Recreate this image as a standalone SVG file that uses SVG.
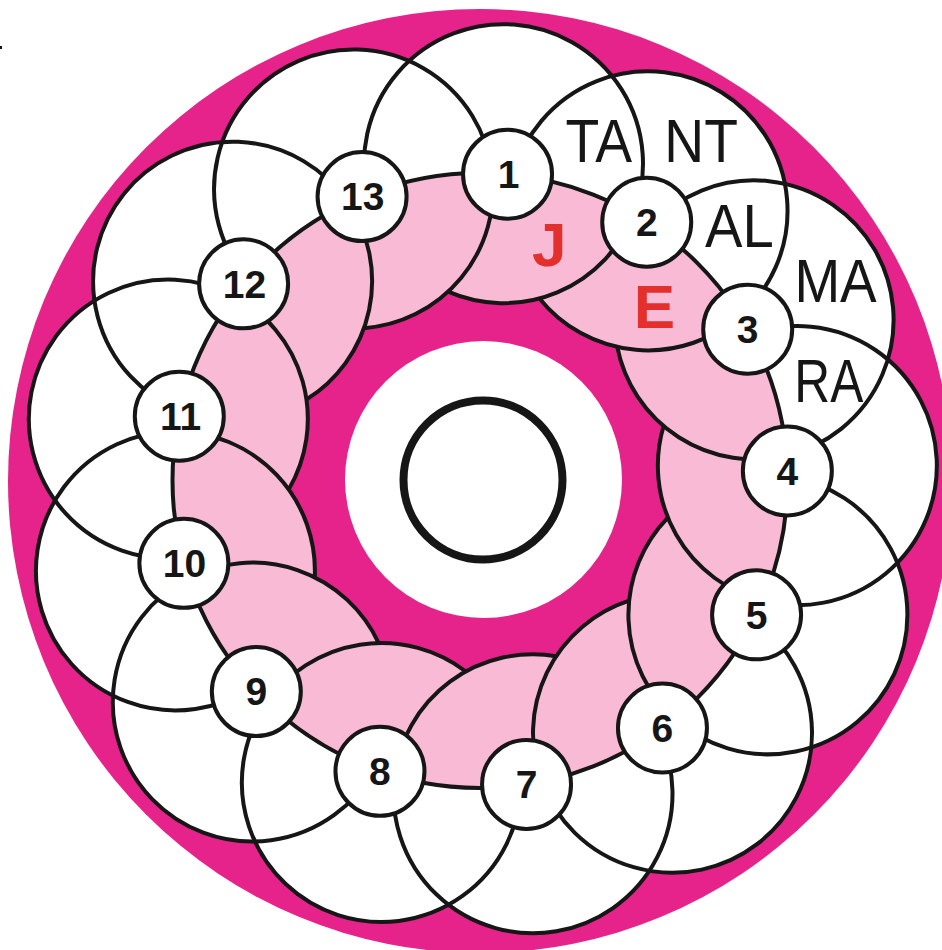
<svg xmlns="http://www.w3.org/2000/svg" width="942" height="950" viewBox="0 0 942 950">
<defs>
<style>
.bg{fill:#fff}
.disc{fill:#E6238A}
.wfill{fill:#fff}
.pfill{fill:#F8BAD5}
.line{fill:none;stroke:#161616;stroke-width:4}
.node circle{fill:#fff;stroke:#161616;stroke-width:4}
.num{font-family:"Liberation Sans",Arial,sans-serif;font-weight:bold;font-size:39px;fill:#161616;text-anchor:middle}
.lbl{font-family:"Liberation Sans",Arial,sans-serif;font-size:61px;fill:#161616}
.red{font-family:"Liberation Sans",Arial,sans-serif;font-weight:bold;font-size:62px;fill:#E3302C}
</style>
<circle id="c" cx="503.49" cy="163.67" r="139.5"/>
<path id="p" d="M448.04,291.67 A139.5,139.5 0 0 0 633.57,214.09 A139.5,139.5 0 1 0 367.41,194.36"/>
<clipPath id="inring"><circle cx="480" cy="480.5" r="307.5"/></clipPath>
</defs>
<rect class="bg" x="0" y="0" width="942" height="950"/>
<rect x="0" y="46" width="2" height="3" fill="#161616"/>
<circle class="disc" cx="480" cy="481" r="472"/>
<g id="petal-fill" class="wfill">
<use href="#c"/>
<use href="#c" transform="rotate(27.6923 480 480.5)"/>
<use href="#c" transform="rotate(55.3846 480 480.5)"/>
<use href="#c" transform="rotate(83.0769 480 480.5)"/>
<use href="#c" transform="rotate(110.7692 480 480.5)"/>
<use href="#c" transform="rotate(138.4615 480 480.5)"/>
<use href="#c" transform="rotate(166.1538 480 480.5)"/>
<use href="#c" transform="rotate(193.8462 480 480.5)"/>
<use href="#c" transform="rotate(221.5385 480 480.5)"/>
<use href="#c" transform="rotate(249.2308 480 480.5)"/>
<use href="#c" transform="rotate(276.9231 480 480.5)"/>
<use href="#c" transform="rotate(304.6154 480 480.5)"/>
<use href="#c" transform="rotate(332.3077 480 480.5)"/>
</g>
<g id="pink-fill" class="pfill" clip-path="url(#inring)">
<use href="#c"/>
<use href="#c" transform="rotate(27.6923 480 480.5)"/>
<use href="#c" transform="rotate(55.3846 480 480.5)"/>
<use href="#c" transform="rotate(83.0769 480 480.5)"/>
<use href="#c" transform="rotate(110.7692 480 480.5)"/>
<use href="#c" transform="rotate(138.4615 480 480.5)"/>
<use href="#c" transform="rotate(166.1538 480 480.5)"/>
<use href="#c" transform="rotate(193.8462 480 480.5)"/>
<use href="#c" transform="rotate(221.5385 480 480.5)"/>
<use href="#c" transform="rotate(249.2308 480 480.5)"/>
<use href="#c" transform="rotate(276.9231 480 480.5)"/>
<use href="#c" transform="rotate(304.6154 480 480.5)"/>
<use href="#c" transform="rotate(332.3077 480 480.5)"/>
</g>
<g id="center">
<circle cx="483.5" cy="479.5" r="138.5" fill="#fff"/>
<circle cx="483" cy="480" r="79.5" fill="none" stroke="#161616" stroke-width="8"/>
</g>
<g id="connectors" class="line">
<circle cx="480" cy="480.5" r="307.5"/>
<use href="#p"/>
<use href="#p" transform="rotate(27.6923 480 480.5)"/>
<use href="#p" transform="rotate(55.3846 480 480.5)"/>
<use href="#p" transform="rotate(83.0769 480 480.5)"/>
<use href="#p" transform="rotate(110.7692 480 480.5)"/>
<use href="#p" transform="rotate(138.4615 480 480.5)"/>
<use href="#p" transform="rotate(166.1538 480 480.5)"/>
<use href="#p" transform="rotate(193.8462 480 480.5)"/>
<use href="#p" transform="rotate(221.5385 480 480.5)"/>
<use href="#p" transform="rotate(249.2308 480 480.5)"/>
<use href="#p" transform="rotate(276.9231 480 480.5)"/>
<use href="#p" transform="rotate(304.6154 480 480.5)"/>
<use href="#p" transform="rotate(332.3077 480 480.5)"/>
</g>
<g id="labels">
<text class="lbl" x="565.5" y="161.7" textLength="66.5" lengthAdjust="spacingAndGlyphs">TA</text>
<text class="lbl" x="664.3" y="161.7" textLength="73.6" lengthAdjust="spacingAndGlyphs">NT</text>
<text class="lbl" x="705" y="246.7" font-size="58" textLength="68.7" lengthAdjust="spacingAndGlyphs">AL</text>
<text class="lbl" x="794.4" y="301.7" font-size="63" textLength="82.3" lengthAdjust="spacingAndGlyphs">MA</text>
<text class="lbl" x="794.3" y="401.7" font-size="63" textLength="69" lengthAdjust="spacingAndGlyphs">RA</text>
<text class="red" x="532" y="265.5">J</text>
<text class="red" x="633.8" y="328.3">E</text>
</g>
<g id="node1" class="node"><circle cx="507.55" cy="174.24" r="44.5"/><text class="num" x="508.5" y="188">1</text></g>
<g id="node2" class="node"><circle cx="646.73" cy="222.13" r="44.5"/><text class="num" x="646.73" y="235.9">2</text></g>
<g id="node3" class="node"><circle cx="747.70" cy="329.19" r="44.5"/><text class="num" x="747.70" y="343">3</text></g>
<g id="node4" class="node"><circle cx="787.35" cy="470.93" r="44.5"/><text class="num" x="787.35" y="484.7">4</text></g>
<g id="node5" class="node"><circle cx="756.59" cy="614.87" r="44.5"/><text class="num" x="756.59" y="628.6">5</text></g>
<g id="node6" class="node"><circle cx="662.46" cy="728.02" r="44.5"/><text class="num" x="662.46" y="741.8">6</text></g>
<g id="node7" class="node"><circle cx="526.55" cy="784.46" r="44.5"/><text class="num" x="526.55" y="798.2">7</text></g>
<g id="node8" class="node"><circle cx="379.97" cy="771.28" r="44.5"/><text class="num" x="379.97" y="785">8</text></g>
<g id="node9" class="node"><circle cx="256.33" cy="691.52" r="44.5"/><text class="num" x="256.33" y="705.3">9</text></g>
<g id="node10" class="node"><circle cx="183.87" cy="563.34" r="44.5"/><text class="num" x="184.5" y="577.1">10</text></g>
<g id="node11" class="node"><circle cx="179.29" cy="416.24" r="44.5"/><text class="num" x="180.5" y="430">11</text></g>
<g id="node12" class="node"><circle cx="243.61" cy="283.84" r="44.5"/><text class="num" x="244.5" y="297.6">12</text></g>
<g id="node13" class="node"><circle cx="362.08" cy="196.51" r="44.5"/><text class="num" x="362.8" y="210.3">13</text></g>
</svg>
